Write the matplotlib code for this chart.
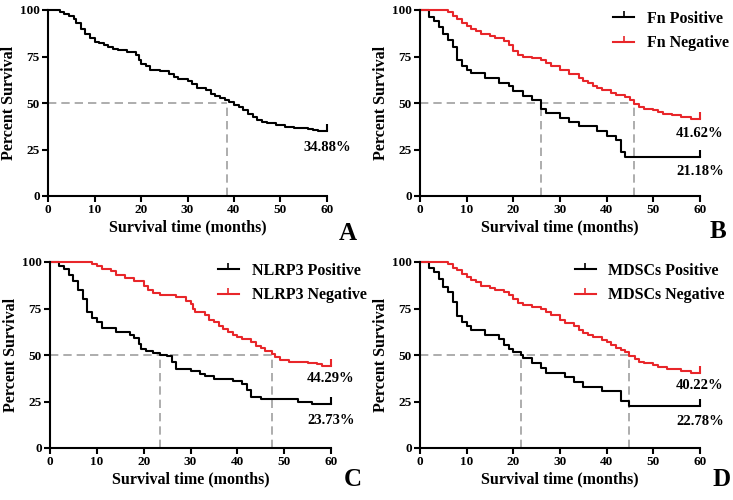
import matplotlib.pyplot as plt

plt.rcParams['font.family'] = 'Liberation Serif'
plt.rcParams['font.weight'] = 'bold'

# Panel A - all patients
a_t = [0, 2.5, 3.5, 4.5, 5.5, 6, 7, 8, 9, 10, 11, 12, 13, 14, 15, 17, 19, 19.5, 20, 21, 22, 24, 26, 27, 28, 30, 31, 32, 34, 35, 36, 37, 38, 39, 40, 41, 42, 43, 44, 45, 46, 47, 49, 51, 53, 56, 57, 58, 60]
a_s = [100, 99, 98, 97, 95, 93, 90, 87, 85, 83, 82, 81, 80, 79, 78.5, 77.5, 76, 73, 71, 70, 68, 67, 65.5, 64, 63, 62, 60, 58, 57, 55, 53.5, 52.5, 51.5, 50.5, 49, 48, 46.5, 44, 42.5, 41, 40, 39, 38, 37, 36.5, 36, 35.5, 34.88, 34.88]

# Panel B - Fn
b_pos_t = [0, 2, 3, 4, 5, 6, 7, 8, 9, 10, 11, 14, 17, 19, 20, 22, 24, 25.9, 27, 30, 32, 34, 38, 40, 42, 43, 44, 60]
b_pos_s = [100, 96, 94, 91, 87, 84, 80, 73, 70, 68, 66, 63.5, 61, 59, 56.5, 54, 51.5, 47, 44.5, 42, 40, 37.5, 35, 32.5, 30, 23.5, 21.18, 21.18]
b_neg_t = [0, 6, 7, 8, 9, 10, 11, 12, 13, 15, 16, 18, 19, 20, 21, 22, 24, 26, 27, 28, 30, 32, 34, 35, 36, 37, 38, 39, 41, 42, 44, 45, 45.8, 47, 48, 50, 51, 52, 54, 56, 58, 60]
b_neg_s = [100, 99, 97, 95, 93, 91.5, 90, 88.5, 87, 86, 85, 83.5, 81, 78, 76, 75, 74, 73, 71.5, 70, 67.5, 65.5, 63.5, 62, 60.5, 59, 58, 57, 55.5, 54.5, 53, 51.5, 49.5, 48, 47, 46, 45, 44, 43.5, 42.5, 41.62, 41.62]

# Panel C - NLRP3
c_pos_t = [0, 2, 3, 4, 5, 6, 7, 8, 9, 10, 11, 14, 17, 18, 19, 19.5, 20.5, 22, 23.5, 25, 26, 27, 30, 32, 33, 35, 39, 41, 42, 43, 45, 53, 56, 60]
c_pos_s = [100, 98, 96, 93, 90, 85, 80, 73, 70, 67.5, 64.5, 62.5, 61, 59, 56, 53, 52, 51, 50, 49.5, 46, 42.5, 41.5, 40, 38.5, 37, 36, 34.5, 31, 27.5, 26.5, 25, 23.73, 23.73]
c_neg_t = [0, 9, 10, 11, 13, 14, 16, 18, 20, 21, 22, 23.5, 27, 29, 30, 30.5, 31, 33, 34, 35, 36, 37, 38, 39, 40, 41, 43, 44, 45, 46, 47.3, 48, 49, 51, 53, 55, 57, 58, 60]
c_neg_s = [100, 99, 98, 96.5, 95, 93, 91.5, 90, 87, 85, 83.5, 82, 81, 79, 77.5, 75, 73, 71.5, 69, 67.5, 65.5, 64, 62.5, 61, 59.5, 58.5, 57, 55, 53.5, 52, 50.5, 49, 47.5, 46.5, 46, 45.5, 45, 44.29, 44.29]

# Panel D - MDSCs
d_pos_t = [0, 2, 3, 4, 5, 6, 7, 8, 9, 10, 11, 14, 17, 18, 19, 20, 21.7, 22, 24, 26, 27, 31, 33, 35, 39, 43, 44.8, 60]
d_pos_s = [100, 97, 94.5, 91, 86.5, 84, 78.5, 71, 68, 65.5, 63.5, 61, 58.5, 55.5, 53, 51.5, 50, 48.5, 45.5, 43, 40.5, 38, 35.5, 33, 30.5, 25.5, 22.78, 22.78]
d_neg_t = [0, 6, 7, 8, 9, 10, 11, 12, 13, 15, 16, 18, 19, 20, 21, 22, 24, 26, 27, 28, 30, 31, 33, 34, 35, 36, 37, 39, 40, 41, 42, 43, 44, 44.8, 46, 47, 48, 50, 51, 53, 56, 58, 60]
d_neg_s = [100, 99, 97, 95.5, 93.5, 92, 90.5, 89, 87, 86, 85, 84, 82, 80, 78, 77, 76, 74.5, 73, 71.5, 69, 67, 65.5, 63.5, 62, 61, 59.5, 58, 57, 55.5, 53.5, 52.5, 51.5, 49.5, 48, 46.5, 45.5, 44.5, 43.5, 42.5, 41.5, 40.22, 40.22]

RED = '#e8262a'
GREY = '#a0a0a0'

fig = plt.figure(figsize=(7.33, 5), dpi=100)


def setup(ax):
    ax.set_xlim(0, 60)
    ax.set_ylim(0, 100)
    ax.set_xticks(range(0, 61, 10))
    ax.set_yticks([0, 25, 50, 75, 100])
    for s in ['top', 'right']:
        ax.spines[s].set_visible(False)
    for s in ['left', 'bottom']:
        ax.spines[s].set_linewidth(1.5)
    ax.tick_params(width=1.5, length=4, labelsize=9.5, pad=2)
    for lab in ax.get_xticklabels() + ax.get_yticklabels():
        lab.set_fontweight('bold')
    ax.set_xlabel('Survival time (months)', fontsize=11.5, fontweight='bold', labelpad=2)
    ax.set_ylabel('Percent Survival', fontsize=11.5, fontweight='bold', labelpad=2)


def curve(ax, t, s, color, label=None):
    ax.step(t, s, where='post', color=color, lw=1.5, clip_on=False)
    ax.plot([t[-1]], [s[-1]], marker=2, ms=5, mew=1.5, color=color, clip_on=False)
    if label:
        ax.plot([], [], color=color, lw=1.5, marker=2, ms=4, mew=1.2, label=label)


def medians(ax, meds):
    ax.plot([0, max(meds)], [50, 50], ls='--', color=GREY, lw=1.2, dashes=(5, 3))
    for m in meds:
        ax.plot([m, m], [0, 50], ls='--', color=GREY, lw=1.2, dashes=(5, 3))


def pct(ax, y, txt):
    ax.text(60, y, txt, ha='center', va='center', fontsize=10.5, fontweight='bold', clip_on=False)


axA = fig.add_axes([0.0655, 0.608, 0.3806, 0.372])
axB = fig.add_axes([0.573, 0.608, 0.382, 0.372])
axC = fig.add_axes([0.0682, 0.104, 0.3834, 0.372])
axD = fig.add_axes([0.573, 0.104, 0.382, 0.372])

setup(axA)
medians(axA, [38.6])
curve(axA, a_t, a_s, 'black')
pct(axA, 26, '34.88%')

setup(axB)
medians(axB, [25.9, 45.8])
curve(axB, b_pos_t, b_pos_s, 'black', 'Fn Positive')
curve(axB, b_neg_t, b_neg_s, RED, 'Fn Negative')
pct(axB, 33.6, '41.62%')
pct(axB, 13, '21.18%')

setup(axC)
medians(axC, [23.5, 47.3])
curve(axC, c_pos_t, c_pos_s, 'black', 'NLRP3 Positive')
curve(axC, c_neg_t, c_neg_s, RED, 'NLRP3 Negative')
pct(axC, 37.6, '44.29%')
pct(axC, 14.9, '23.73%')

setup(axD)
medians(axD, [21.7, 44.8])
curve(axD, d_pos_t, d_pos_s, 'black', 'MDSCs Positive')
curve(axD, d_neg_t, d_neg_s, RED, 'MDSCs Negative')
pct(axD, 33.4, '40.22%')
pct(axD, 14.3, '22.78%')

for ax, xa in [(axB, 0.69), (axC, 0.598), (axD, 0.553)]:
    ax.legend(loc='upper left', bbox_to_anchor=(xa, 0.997), frameon=False, borderpad=0,
              borderaxespad=0, prop={'weight': 'bold', 'size': 11.5},
              handlelength=1.3, handletextpad=0.8, labelspacing=0.55)

for letter, x, y in [('A', 348, 233), ('B', 718, 232), ('C', 353, 480), ('D', 722, 480)]:
    fig.text(x / 733, 1 - y / 500, letter, ha='center', va='center', fontsize=18, fontweight='bold')

fig.savefig('out.png', dpi=100)
